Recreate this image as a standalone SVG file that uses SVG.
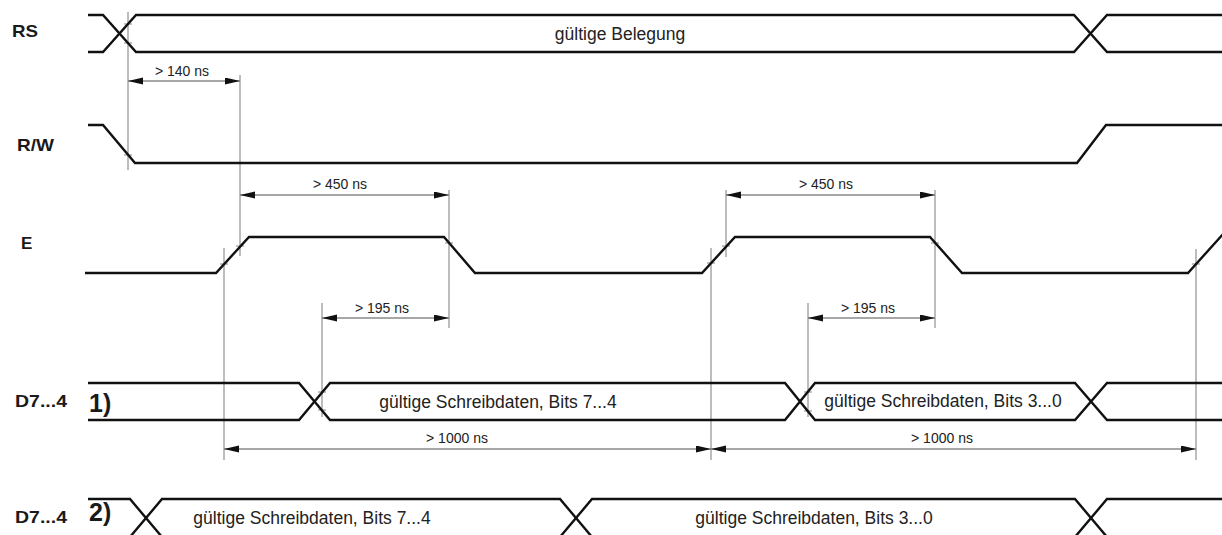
<svg xmlns="http://www.w3.org/2000/svg" width="1222" height="535" viewBox="0 0 1222 535">
<defs>
<style>
.sig{fill:none;stroke:#111;stroke-width:2.4;stroke-linejoin:miter}
.guide{stroke:#9a9a9a;stroke-width:1.3;fill:none}
.tick{stroke:#9a9a9a;stroke-width:1.2}
.dim{stroke:#8a8a8a;stroke-width:1.3;fill:none;marker-start:url(#arr);marker-end:url(#arr)}
.lbl{font-family:"Liberation Sans",Arial,sans-serif;font-weight:bold;font-size:17px;fill:#1a1a1a}
.num{font-family:"Liberation Sans",Arial,sans-serif;font-weight:bold;font-size:25px;fill:#1a1a1a}
.txt{font-family:"Liberation Sans",Arial,sans-serif;font-size:17.5px;fill:#222;text-anchor:middle}
.dt{font-family:"Liberation Sans",Arial,sans-serif;font-size:14px;fill:#222;text-anchor:middle}
</style>
<marker id="arr" markerUnits="userSpaceOnUse" markerWidth="16" markerHeight="8" refX="15" refY="3.5" orient="auto-start-reverse">
<path d="M0,0 L15,3.5 L0,7 z" fill="#111"/>
</marker>
</defs>
<rect width="1222" height="535" fill="#fff"/>

<g id="guides">
<line class="guide" x1="128" y1="12" x2="128" y2="170"/>
<line class="guide" x1="240" y1="75" x2="240" y2="256"/>
<line class="guide" x1="224" y1="248" x2="224" y2="460"/>
<line class="guide" x1="449" y1="190" x2="449" y2="328"/>
<line class="guide" x1="322" y1="303" x2="322" y2="417"/>
<line class="guide" x1="726" y1="190" x2="726" y2="257"/>
<line class="guide" x1="711" y1="248" x2="711" y2="460"/>
<line class="guide" x1="935" y1="190" x2="935" y2="328"/>
<line class="guide" x1="808" y1="303" x2="808" y2="417"/>
<line class="guide" x1="1196" y1="249" x2="1196" y2="460"/>
<line class="tick" x1="124" y1="24" x2="132" y2="24"/>
<line class="tick" x1="124" y1="43" x2="132" y2="43"/>
<line class="tick" x1="124" y1="155" x2="132" y2="155"/>
<line class="tick" x1="236" y1="246" x2="244" y2="246"/>
<line class="tick" x1="220" y1="264" x2="228" y2="264"/>
<line class="tick" x1="445" y1="243" x2="453" y2="243"/>
<line class="tick" x1="722" y1="246" x2="730" y2="246"/>
<line class="tick" x1="707" y1="263" x2="715" y2="263"/>
<line class="tick" x1="931" y1="243" x2="939" y2="243"/>
<line class="tick" x1="1192" y1="264" x2="1200" y2="264"/>
<line class="tick" x1="318" y1="392" x2="326" y2="392"/>
<line class="tick" x1="318" y1="410" x2="326" y2="410"/>
<line class="tick" x1="804" y1="392" x2="812" y2="392"/>
<line class="tick" x1="804" y1="411" x2="812" y2="411"/>
</g>

<g id="sig-RS">
<text class="lbl" x="12" y="37" textLength="26" lengthAdjust="spacingAndGlyphs">RS</text>
<path class="sig" d="M88,15 H103 L136,52 H1074 L1107,15 H1222"/>
<path class="sig" d="M88,52 H103 L136,15 H1074 L1107,52 H1222"/>
<text class="txt" x="620" y="40">gültige Belegung</text>
</g>

<g id="sig-RW">
<text class="lbl" x="17" y="151" textLength="37" lengthAdjust="spacingAndGlyphs">R/W</text>
<path class="sig" d="M88,125 H103 L135,163 H1077 L1106,125 H1222"/>
</g>

<g id="sig-E">
<text class="lbl" x="21" y="249">E</text>
<path class="sig" d="M85,273 H216 L249,237 H444 L475,273 H702 L735,237 H930 L962,273 H1188 L1224,233"/>
</g>

<g id="sig-D1">
<text class="lbl" x="15" y="407" textLength="52" lengthAdjust="spacingAndGlyphs">D7...4</text>
<text class="num" x="89" y="412">1)</text>
<path class="sig" d="M88,383 H299 L330,420 H785 L815,383 H1075 L1107,420 H1222"/>
<path class="sig" d="M88,420 H299 L330,383 H785 L815,420 H1075 L1107,383 H1222"/>
<text class="txt" x="498" y="408">gültige Schreibdaten, Bits 7...4</text>
<text class="txt" x="943" y="407">gültige Schreibdaten, Bits 3...0</text>
</g>

<g id="sig-D2">
<text class="lbl" x="15" y="523" textLength="52" lengthAdjust="spacingAndGlyphs">D7...4</text>
<text class="num" x="89" y="521">2)</text>
<path class="sig" d="M88,499 H130 L162,537 H560 L592,499 H1075 L1107,537 H1222"/>
<path class="sig" d="M88,537 H130 L162,499 H560 L592,537 H1075 L1107,499 H1222"/>
<text class="txt" x="312" y="524">gültige Schreibdaten, Bits 7...4</text>
<text class="txt" x="814" y="524">gültige Schreibdaten, Bits 3...0</text>
</g>

<g id="connectors">
<line class="dim" x1="128" y1="81" x2="240" y2="81"/>
<text class="dt" x="182" y="76">&gt; 140 ns</text>
<line class="dim" x1="240" y1="195" x2="449" y2="195"/>
<text class="dt" x="340" y="189">&gt; 450 ns</text>
<line class="dim" x1="322" y1="318" x2="449" y2="318"/>
<text class="dt" x="382" y="313">&gt; 195 ns</text>
<line class="dim" x1="726" y1="195" x2="935" y2="195"/>
<text class="dt" x="826" y="189">&gt; 450 ns</text>
<line class="dim" x1="808" y1="318" x2="935" y2="318"/>
<text class="dt" x="868" y="313">&gt; 195 ns</text>
<line class="dim" x1="224" y1="449" x2="711" y2="449"/>
<text class="dt" x="457" y="443">&gt; 1000 ns</text>
<line class="dim" x1="711" y1="449" x2="1196" y2="449"/>
<text class="dt" x="942" y="443">&gt; 1000 ns</text>
</g>
</svg>
